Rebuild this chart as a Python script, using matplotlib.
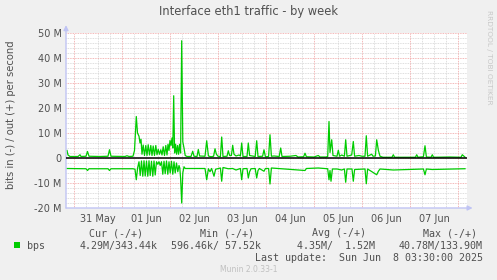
import matplotlib
matplotlib.use('Agg')
import matplotlib.pyplot as plt
import numpy as np

# hours since 31 May 00:00, values in Mbit/s
out_hours = [-3.5, -3.0, -2.0, 2.0, 3.0, 3.5, 6.0, 6.75, 7.5, 13.0, 17.0, 17.75, 18.5,
             25.5, 26.5, 27.5, 29.5, 30.25, 31.15, 31.75, 32.5, 33.0, 33.5,
             34.0, 34.6, 35.25, 35.9, 36.5, 37.1, 37.75, 38.4, 39.0, 39.6, 40.25, 40.9,
             41.5, 42.1, 42.75, 43.4, 44.0, 44.6, 45.25, 45.9, 46.5,
             47.0, 47.5, 48.0, 48.5, 49.0, 49.4, 49.85, 50.3, 50.8, 51.3, 51.8, 52.3,
             52.8, 53.3, 53.85, 54.4, 55.0, 55.6, 56.5,
             58.5, 59.35, 60.0, 61.5, 62.15, 62.8, 65.5, 66.35, 67.2, 68.5, 69.8, 70.5,
             71.2, 72.0, 73.2, 73.85, 74.5, 76.5, 77.15, 77.8, 78.7, 79.35, 80.0, 81.0,
             82.5, 83.2, 83.85, 84.5, 86.5, 87.15, 87.8, 90.6, 91.35, 92.0, 94.3, 95.0,
             95.7, 97.3, 98.0, 98.7, 100.0, 102.6, 103.35, 104.0, 108.0, 111.0, 112.0,
             114.8, 115.5, 116.2, 120.0, 122.15, 123.0, 126.0, 126.85, 127.5, 128.0,
             128.85, 129.5, 131.5, 132.15, 132.8, 133.85, 135.2, 135.85, 136.5, 138.85,
             139.65, 140.3, 142.5, 144.0, 145.5, 146.15, 146.8, 148.85, 149.5, 150.7,
             151.35, 152.2, 153.0, 154.5, 159.0, 159.65, 160.3, 170.7, 171.35, 172.0,
             174.7, 175.5, 176.2, 178.5, 179.15, 179.8, 188.0, 193.5, 194.15, 195.5]
out_mbps = [3.0, 1.2, 0.6, 0.6, 1.3, 0.6, 0.7, 2.6, 0.7, 0.6, 0.7, 3.3, 0.7,
            0.6, 0.9, 0.6, 0.7, 3.0, 16.6, 10.0, 8.7, 6.0, 7.5,
            1.5, 5.2, 1.0, 5.0, 1.0, 5.3, 1.2, 5.0, 1.0, 4.8, 1.0, 5.0,
            1.3, 3.5, 1.5, 3.3, 1.2, 4.5, 1.0, 5.0, 1.2,
            5.5, 3.0, 7.0, 5.0, 8.0, 4.0, 24.9, 2.0, 5.5, 1.5, 5.0, 1.5,
            5.5, 2.0, 46.9, 6.5, 4.0, 1.0, 0.6,
            0.6, 2.7, 0.7, 0.6, 3.4, 0.8, 0.7, 6.9, 0.8, 0.5, 0.7, 3.7,
            1.5, 0.7, 0.5, 8.4, 0.6, 0.7, 2.9, 1.0, 1.0, 5.1, 1.5, 0.8,
            1.2, 0.8, 6.0, 0.6, 0.6, 6.0, 1.0, 0.6, 6.9, 0.6, 0.7, 3.3,
            0.5, 0.6, 9.3, 0.7, 0.8, 0.6, 4.0, 0.6, 0.7, 1.0, 0.4,
            0.5, 1.9, 0.5, 0.4, 1.0, 0.4, 0.4, 0.6, 14.6, 2.2,
            7.3, 1.0, 0.7, 3.1, 0.7, 1.2, 0.7, 7.3, 0.7, 1.2,
            6.6, 0.7, 1.0, 0.7, 0.7, 8.9, 0.7, 1.5, 0.7, 0.8,
            7.3, 3.0, 0.7, 0.3, 0.3, 1.3, 0.3, 0.3, 1.3, 0.3,
            0.5, 4.9, 0.4, 0.3, 1.3, 0.3, 0.4, 0.3, 1.3, 0.34]

in_hours = [-3.5, 6.0, 6.75, 7.5, 17.0, 17.75, 18.5, 29.5, 30.5, 31.15, 31.8, 32.5,
            33.1, 33.75, 34.4, 35.0, 35.6, 36.25, 36.9, 37.5, 38.1, 38.75, 39.4, 40.0,
            40.6, 41.25, 41.9, 42.5, 43.1, 43.75,
            44.4, 45.0, 45.6, 46.25, 46.9, 47.5, 48.1, 48.75, 49.4, 50.0, 50.6, 51.25,
            51.9, 52.5, 52.9, 53.3, 53.85, 54.4, 55.0, 55.6,
            65.5, 66.35, 67.2, 68.0, 68.8, 70.0, 70.8, 73.2, 73.85, 74.5, 77.15, 79.35,
            81.0, 83.2, 83.85, 84.5, 86.5, 87.15, 87.8, 88.5, 90.6, 91.35, 92.0, 92.7,
            95.0, 95.7, 97.3, 98.0, 98.7, 115.5, 116.2, 122.15, 126.85, 127.5, 128.0,
            128.5, 129.2, 131.5, 133.85, 135.2, 135.85, 136.5, 139.0, 139.65, 140.3,
            145.5, 146.15, 146.8, 151.35, 152.2, 153.0, 159.65, 174.7, 175.5, 176.2,
            179.15, 195.5]
in_mbps = [4.2, 4.3, 5.0, 4.3, 4.3, 5.0, 4.3, 4.3, 4.5, 8.7, 4.0, 1.5,
           7.0, 1.2, 7.3, 1.1, 7.2, 1.2, 7.3, 1.1, 7.0, 1.3, 7.3, 1.2,
           6.8, 1.5, 2.5, 1.5, 3.0, 1.5,
           6.5, 1.3, 6.3, 1.2, 6.5, 1.5, 6.0, 1.3, 6.5, 1.5, 6.0, 2.0,
           5.5, 3.0, 4.0, 8.0, 18.0, 6.0, 3.5, 4.2,
           4.2, 8.7, 4.3, 5.5, 4.2, 7.3, 4.5, 4.0, 9.3, 3.8, 4.3, 4.2,
           4.8, 4.2, 8.7, 4.3, 4.2, 8.0, 5.5, 4.3, 4.2, 8.0, 5.0, 4.2,
           5.3, 4.2, 4.2, 10.4, 4.0, 5.0, 4.2, 4.0, 4.3, 8.7, 5.0,
           9.3, 4.4, 4.4, 4.8, 4.4, 9.7, 4.4, 4.4, 9.3, 4.6,
           4.4, 10.3, 4.4, 6.7, 5.3, 4.4, 4.8, 4.4, 6.7, 4.4,
           4.6, 4.29]

day_labels = ['31 May', '01 Jun', '02 Jun', '03 Jun', '04 Jun', '05 Jun', '06 Jun', '07 Jun']
y_ticks = [-20, -10, 0, 10, 20, 30, 40, 50]
y_labels = ['-20 M', '-10 M', '0', '10 M', '20 M', '30 M', '40 M', '50 M']

W, H = 497, 280
txt = '#505050'
green = '#00cc00'

fig = plt.figure(figsize=(W / 100, H / 100), dpi=100, facecolor='#f0f0f0')
ax = fig.add_axes([66 / W, 1 - 208 / H, 401 / W, 175 / H])
ax.set_facecolor('white')
ax.set_xlim(-4, 196.5)
ax.set_ylim(-20, 50)

# grid
for h in np.arange(-0, 197, 6):
    major = h % 24 == 0
    ax.axvline(h, color='#f0a0a0' if major else '#d4d4d4', lw=0.6,
               ls=(0, (1, 1)), zorder=1 if major else 0.5)
for v in np.arange(-20, 51, 2):
    major = v % 10 == 0
    ax.axhline(v, color='#f0a0a0' if major else '#d4d4d4', lw=0.6,
               ls=(0, (1, 1)), zorder=1 if major else 0.5)

ax.plot(out_hours, out_mbps, color=green, lw=0.9, zorder=3)
ax.plot(in_hours, -np.array(in_mbps), color=green, lw=0.9, zorder=3)
ax.axhline(0, color='black', lw=1.1, zorder=4)

for s in ax.spines.values():
    s.set_visible(False)
ax.set_yticks(y_ticks, y_labels)
ax.set_xticks([12 + 24 * i for i in range(len(day_labels))], day_labels)
ax.tick_params(length=0, labelsize=7, labelcolor=txt, pad=3)
ax.tick_params(axis='x', pad=4)

# blue axis arrows
blue = '#c0c4f4'
ax.annotate('', xy=(0, 1.045), xytext=(0, 0), xycoords='axes fraction',
            arrowprops=dict(arrowstyle='-|>', color=blue, lw=1, mutation_scale=7,
                            shrinkA=0, shrinkB=0))
ax.annotate('', xy=(1.014, 0), xytext=(0, 0), xycoords='axes fraction',
            arrowprops=dict(arrowstyle='-|>', color=blue, lw=1, mutation_scale=7,
                            shrinkA=0, shrinkB=0))

def px(x, y):
    return x / W, 1 - y / H

fig.text(*px(248.5, 12), 'Interface eth1 traffic - by week', ha='center', va='center',
         fontsize=8.3, color=txt)
fig.text(*px(11, 115), 'bits in (-) / out (+) per second', rotation=90, ha='center',
         va='center', fontsize=7.2, color=txt)
fig.text(*px(489, 57), 'RRDTOOL / TOBI OETIKER', rotation=270, ha='center', va='center',
         fontsize=5.3, color='#c8c8c8')

mono = dict(family='DejaVu Sans Mono', fontsize=7.2, color=txt, va='center')
fig.text(*px(116, 233), 'Cur (-/+)', ha='center', **mono)
fig.text(*px(227, 233), 'Min (-/+)', ha='center', **mono)
fig.text(*px(339, 233), 'Avg (-/+)', ha='center', **mono)
fig.text(*px(450, 233), 'Max (-/+)', ha='center', **mono)
fig.patches.append(plt.Rectangle(px(14, 248), 6 / W, 6 / H, transform=fig.transFigure,
                                 facecolor=green, edgecolor='none'))
fig.text(*px(27, 246), 'bps', ha='left', **mono)
fig.text(*px(158, 246), '4.29M/343.44k', ha='right', **mono)
fig.text(*px(261, 246), '596.46k/ 57.52k', ha='right', **mono)
fig.text(*px(375, 246), '4.35M/  1.52M', ha='right', **mono)
fig.text(*px(483, 246), '40.78M/133.90M', ha='right', **mono)
fig.text(*px(483, 258), 'Last update:  Sun Jun  8 03:30:00 2025', ha='right', **mono)
fig.text(*px(248.5, 269), 'Munin 2.0.33-1', ha='center', va='center', fontsize=5.5,
         color='#c0c0c0')

fig.savefig('out.png', dpi=100, facecolor=fig.get_facecolor())
